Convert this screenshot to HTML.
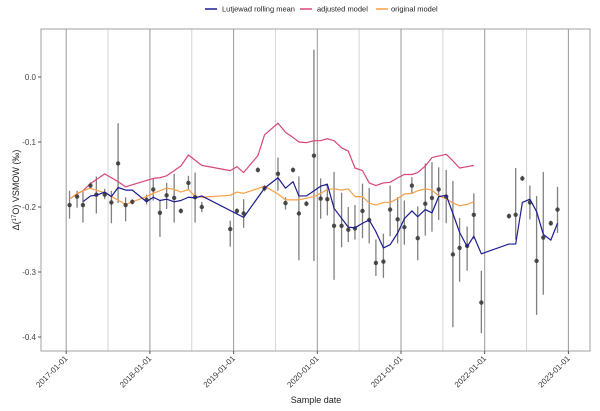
<!DOCTYPE html>
<html><head><meta charset="utf-8"><style>
html,body{margin:0;padding:0;background:#fff;}
svg{display:block;font-family:"Liberation Sans",sans-serif;}
</style></head><body>
<svg id="chart" width="600" height="411" viewBox="0 0 600 411">
<g id="grid"></g>
<rect x="41" y="29" width="549" height="322" fill="none" stroke="#a0a0a0" stroke-width="1"/>
<g id="series"></g>
<g id="axes"></g>
<g font-size="7.5" fill="#222">
  <g><line x1="205" y1="9" x2="217" y2="9" stroke="#1c1c8f" stroke-width="1.5"/><text x="222" y="11.5">Lutjewad rolling mean</text></g>
  <g><line x1="300" y1="9" x2="312" y2="9" stroke="#d8457c" stroke-width="1.5"/><text x="317" y="11.5">adjusted model</text></g>
  <g><line x1="376" y1="9" x2="388" y2="9" stroke="#f8a048" stroke-width="1.5"/><text x="391" y="11.5">original model</text></g>
</g>
<text x="316" y="403" font-size="9" text-anchor="middle" fill="#222">Sample date</text>
<text transform="translate(19,190) rotate(-90)" font-size="9" text-anchor="middle" fill="#222">Δ(<tspan font-size="6" dy="-3">17</tspan><tspan dy="3">O) VSMOW (‰)</tspan></text>
</svg>
<script>
// observations: decimal year, value, error low, error high
const obsDates=[2017.04,2017.13,2017.20,2017.29,2017.36,2017.46,2017.54,2017.62,2017.71,2017.79,2017.96,2018.04,2018.12,2018.20,2018.29,2018.37,2018.46,2018.54,2018.62,2018.96,2019.04,2019.12,2019.29,2019.37,2019.53,2019.62,2019.71,2019.78,2019.87,2019.96,2020.04,2020.12,2020.20,2020.29,2020.37,2020.45,2020.54,2020.62,2020.70,2020.79,2020.87,2020.96,2021.04,2021.13,2021.20,2021.29,2021.37,2021.45,2021.54,2021.62,2021.70,2021.79,2021.87,2021.96,2022.29,2022.37,2022.45,2022.54,2022.62,2022.70,2022.79,2022.87];
const obsValues=[-0.197,-0.184,-0.197,-0.167,-0.181,-0.181,-0.193,-0.133,-0.197,-0.192,-0.189,-0.173,-0.209,-0.182,-0.186,-0.206,-0.163,-0.185,-0.200,-0.234,-0.206,-0.210,-0.143,-0.171,-0.149,-0.194,-0.143,-0.210,-0.195,-0.121,-0.187,-0.188,-0.229,-0.229,-0.235,-0.233,-0.206,-0.220,-0.286,-0.284,-0.204,-0.219,-0.231,-0.167,-0.248,-0.195,-0.186,-0.173,-0.184,-0.273,-0.263,-0.260,-0.212,-0.347,-0.214,-0.212,-0.156,-0.193,-0.283,-0.247,-0.225,-0.204];
const obsLow=[-0.218,-0.201,-0.224,-0.172,-0.210,-0.188,-0.225,-0.194,-0.222,-0.196,-0.196,-0.190,-0.246,-0.203,-0.224,-0.210,-0.174,-0.224,-0.208,-0.261,-0.210,-0.232,-0.147,-0.176,-0.175,-0.204,-0.147,-0.282,-0.199,-0.283,-0.218,-0.213,-0.312,-0.262,-0.254,-0.250,-0.248,-0.256,-0.306,-0.309,-0.245,-0.256,-0.258,-0.180,-0.282,-0.244,-0.238,-0.220,-0.225,-0.385,-0.315,-0.298,-0.249,-0.394,-0.218,-0.250,-0.160,-0.219,-0.366,-0.335,-0.229,-0.240];
const obsHigh=[-0.175,-0.175,-0.175,-0.162,-0.153,-0.172,-0.175,-0.071,-0.185,-0.188,-0.181,-0.156,-0.189,-0.163,-0.149,-0.202,-0.152,-0.147,-0.192,-0.221,-0.202,-0.188,-0.139,-0.166,-0.124,-0.185,-0.139,-0.153,-0.191,0.042,-0.156,-0.164,-0.146,-0.178,-0.200,-0.197,-0.164,-0.171,-0.250,-0.241,-0.167,-0.185,-0.190,-0.154,-0.199,-0.133,-0.131,-0.139,-0.143,-0.160,-0.217,-0.230,-0.179,-0.298,-0.210,-0.140,-0.152,-0.167,-0.183,-0.146,-0.221,-0.169];
const meanDates=[2017.20,2017.29,2017.36,2017.46,2017.54,2017.62,2017.71,2017.79,2017.96,2018.04,2018.12,2018.20,2018.29,2018.37,2018.46,2018.54,2018.62,2019.12,2019.37,2019.53,2019.62,2019.71,2019.78,2019.87,2020.04,2020.12,2020.20,2020.37,2020.45,2020.54,2020.62,2020.70,2020.79,2020.87,2020.96,2021.04,2021.13,2021.20,2021.29,2021.37,2021.45,2021.54,2021.62,2021.70,2021.79,2021.87,2021.96,2022.29,2022.37,2022.45,2022.54,2022.62,2022.70,2022.79,2022.87];
const meanValues=[-0.192,-0.183,-0.182,-0.177,-0.184,-0.170,-0.174,-0.174,-0.192,-0.185,-0.190,-0.188,-0.192,-0.190,-0.185,-0.186,-0.183,-0.216,-0.171,-0.155,-0.171,-0.161,-0.183,-0.183,-0.168,-0.165,-0.202,-0.231,-0.232,-0.225,-0.220,-0.238,-0.263,-0.258,-0.240,-0.218,-0.206,-0.215,-0.204,-0.209,-0.184,-0.182,-0.210,-0.239,-0.261,-0.245,-0.272,-0.257,-0.257,-0.193,-0.188,-0.207,-0.242,-0.251,-0.225];
const adjDates=[2017.05,2017.13,2017.20,2017.29,2017.46,2017.62,2017.71,2018.04,2018.12,2018.20,2018.29,2018.37,2018.46,2018.62,2018.96,2019.04,2019.12,2019.29,2019.37,2019.53,2019.62,2019.71,2019.78,2019.87,2019.96,2020.04,2020.12,2020.20,2020.29,2020.37,2020.45,2020.54,2020.62,2020.70,2020.79,2020.87,2020.96,2021.04,2021.13,2021.20,2021.29,2021.37,2021.54,2021.62,2021.70,2021.79,2021.87];
const adjValues=[-0.187,-0.180,-0.175,-0.164,-0.149,-0.161,-0.169,-0.156,-0.155,-0.152,-0.144,-0.137,-0.120,-0.136,-0.144,-0.138,-0.147,-0.121,-0.089,-0.071,-0.085,-0.093,-0.100,-0.101,-0.098,-0.098,-0.095,-0.098,-0.109,-0.114,-0.140,-0.144,-0.163,-0.167,-0.163,-0.162,-0.155,-0.150,-0.150,-0.147,-0.137,-0.124,-0.119,-0.129,-0.140,-0.138,-0.136];
const origDates=[2017.05,2017.13,2017.28,2017.46,2017.71,2017.96,2018.04,2018.20,2018.29,2018.37,2018.46,2018.54,2018.62,2018.96,2019.04,2019.12,2019.37,2019.53,2019.62,2019.78,2019.96,2020.04,2020.12,2020.20,2020.29,2020.37,2020.45,2020.54,2020.62,2020.70,2020.79,2020.87,2020.96,2021.04,2021.13,2021.20,2021.29,2021.37,2021.45,2021.54,2021.62,2021.70,2021.79,2021.87];
const origValues=[-0.187,-0.179,-0.171,-0.178,-0.196,-0.184,-0.179,-0.171,-0.173,-0.177,-0.173,-0.184,-0.185,-0.182,-0.177,-0.179,-0.168,-0.180,-0.189,-0.189,-0.184,-0.179,-0.173,-0.172,-0.174,-0.172,-0.184,-0.184,-0.194,-0.197,-0.193,-0.193,-0.187,-0.180,-0.179,-0.175,-0.172,-0.174,-0.183,-0.187,-0.194,-0.198,-0.196,-0.192];
const yTicks=[0.0,-0.1,-0.2,-0.3,-0.4];
const yTickLabels=["0.0","-0.1","-0.2","-0.3","-0.4"];
const xTicks=[2017,2018,2019,2020,2021,2022,2023];
const xTickLabels=["2017-01-01","2018-01-01","2019-01-01","2020-01-01","2021-01-01","2022-01-01","2023-01-01"];

const NS="http://www.w3.org/2000/svg";
function xs(t){return 66.2+(t-2017)*83.7;}
function ys(v){return 77-v*650;}
function mk(tag,attrs,parent){const e=document.createElementNS(NS,tag);for(const k in attrs)e.setAttribute(k,attrs[k]);parent.appendChild(e);return e;}
const grid=document.getElementById('grid'),series=document.getElementById('series'),axes=document.getElementById('axes');
for(let t=2016.5;t<=2023.5;t+=0.5){
  const x=xs(t); if(x<42||x>589)continue;
  const major=Number.isInteger(t);
  const l=mk('line',{x1:x,x2:x,y1:29,y2:351,stroke:major?'#9a9a9a':'#d6d6d6','stroke-width':1},grid);
  
  
}
xTicks.forEach((t,i)=>{
  const x=xs(t);
  const tk=mk('line',{x1:x,x2:x,y1:351,y2:354,stroke:'#555'},axes);
  
  
  const tx=mk('text',{x:x+2,y:359,'font-size':8,fill:'#333','text-anchor':'end',transform:`rotate(-45 ${x+2} 359)`},axes);
  tx.textContent=xTickLabels[i];
  
  
});
yTicks.forEach((v,i)=>{
  const y=ys(v);
  const tk=mk('line',{x1:38,x2:41,y1:y,y2:y,stroke:'#555'},axes);
  
  
  const tx=mk('text',{x:36,y:y+3,'font-size':8,fill:'#444','text-anchor':'end'},axes);
  tx.textContent=yTickLabels[i];
  
  
});
obsDates.forEach((t,i)=>{
  const x=xs(t);
  const eb=mk('line',{x1:x,x2:x,y1:ys(obsHigh[i]),y2:ys(obsLow[i]),stroke:'#808080','stroke-width':1.3},series);
  
  
});
function line(d,v,color,name){
  const p=mk('polyline',{points:d.map((t,i)=>xs(t)+','+ys(v[i])).join(' '),fill:'none',stroke:color,'stroke-width':1.2,'stroke-linejoin':'round'},series);
  
  
}
line(adjDates,adjValues,'#d8457c','adjusted-model-line');
line(origDates,origValues,'#f8a048','original-model-line');
obsDates.forEach((t,i)=>{
  const c=mk('circle',{cx:xs(t),cy:ys(obsValues[i]),r:2.2,fill:'#333','fill-opacity':0.85},series);
  
  
});
line(meanDates,meanValues,'#1c1c8f','rolling-mean-line');
</script>
</body></html>
